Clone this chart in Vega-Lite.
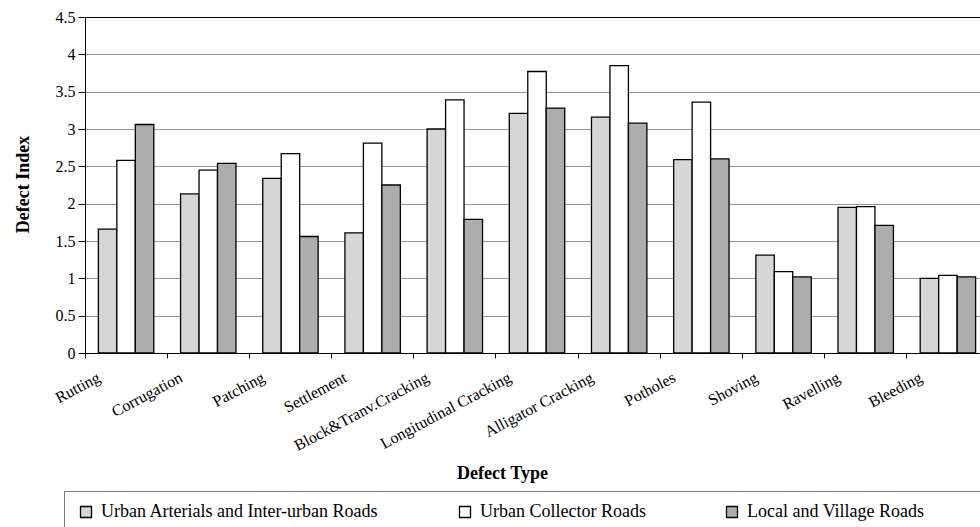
{
  "$schema": "https://vega.github.io/schema/vega-lite/v6.json",
  "autosize": "none",
  "width": 895,
  "height": 336,
  "padding": {"left": 85, "top": 17, "right": 0, "bottom": 174},
  "background": "white",
  "data": {
    "values": [
      {"t": "Rutting", "s": "Urban Arterials and Inter-urban Roads", "v": 1.66},
      {"t": "Rutting", "s": "Urban Collector Roads", "v": 2.58},
      {"t": "Rutting", "s": "Local and Village Roads", "v": 3.06},
      {"t": "Corrugation", "s": "Urban Arterials and Inter-urban Roads", "v": 2.13},
      {"t": "Corrugation", "s": "Urban Collector Roads", "v": 2.45},
      {"t": "Corrugation", "s": "Local and Village Roads", "v": 2.54},
      {"t": "Patching", "s": "Urban Arterials and Inter-urban Roads", "v": 2.34},
      {"t": "Patching", "s": "Urban Collector Roads", "v": 2.67},
      {"t": "Patching", "s": "Local and Village Roads", "v": 1.56},
      {"t": "Settlement", "s": "Urban Arterials and Inter-urban Roads", "v": 1.61},
      {"t": "Settlement", "s": "Urban Collector Roads", "v": 2.81},
      {"t": "Settlement", "s": "Local and Village Roads", "v": 2.25},
      {"t": "Block&Tranv.Cracking", "s": "Urban Arterials and Inter-urban Roads", "v": 3.00},
      {"t": "Block&Tranv.Cracking", "s": "Urban Collector Roads", "v": 3.39},
      {"t": "Block&Tranv.Cracking", "s": "Local and Village Roads", "v": 1.79},
      {"t": "Longitudinal Cracking", "s": "Urban Arterials and Inter-urban Roads", "v": 3.21},
      {"t": "Longitudinal Cracking", "s": "Urban Collector Roads", "v": 3.77},
      {"t": "Longitudinal Cracking", "s": "Local and Village Roads", "v": 3.28},
      {"t": "Alligator Cracking", "s": "Urban Arterials and Inter-urban Roads", "v": 3.16},
      {"t": "Alligator Cracking", "s": "Urban Collector Roads", "v": 3.85},
      {"t": "Alligator Cracking", "s": "Local and Village Roads", "v": 3.08},
      {"t": "Potholes", "s": "Urban Arterials and Inter-urban Roads", "v": 2.59},
      {"t": "Potholes", "s": "Urban Collector Roads", "v": 3.36},
      {"t": "Potholes", "s": "Local and Village Roads", "v": 2.60},
      {"t": "Shoving", "s": "Urban Arterials and Inter-urban Roads", "v": 1.31},
      {"t": "Shoving", "s": "Urban Collector Roads", "v": 1.09},
      {"t": "Shoving", "s": "Local and Village Roads", "v": 1.02},
      {"t": "Ravelling", "s": "Urban Arterials and Inter-urban Roads", "v": 1.95},
      {"t": "Ravelling", "s": "Urban Collector Roads", "v": 1.96},
      {"t": "Ravelling", "s": "Local and Village Roads", "v": 1.71},
      {"t": "Bleeding", "s": "Urban Arterials and Inter-urban Roads", "v": 1.00},
      {"t": "Bleeding", "s": "Urban Collector Roads", "v": 1.04},
      {"t": "Bleeding", "s": "Local and Village Roads", "v": 1.02}
    ]
  },
  "mark": {"type": "bar", "stroke": "black", "strokeWidth": 1.3},
  "encoding": {
    "x": {
      "field": "t",
      "type": "nominal",
      "sort": ["Rutting", "Corrugation", "Patching", "Settlement", "Block&Tranv.Cracking", "Longitudinal Cracking", "Alligator Cracking", "Potholes", "Shoving", "Ravelling", "Bleeding"],
      "scale": {"paddingInner": 0, "paddingOuter": 0, "range": [0, 904]},
      "axis": {
        "title": "Defect Type",
        "titleFont": "Liberation Serif",
        "titleFontSize": 18,
        "titleFontWeight": "bold",
        "titleColor": "black",
        "titleX": 417,
        "titleY": 125,
        "titleBaseline": "alphabetic",
        "bandPosition": 0,
        "domainColor": "black",
        "tickColor": "black",
        "tickSize": 5,
        "labelAngle": -28,
        "labelAlign": "right",
        "labelBaseline": "middle",
        "labelOffset": -27,
        "labelPadding": 18,
        "labelFont": "Liberation Serif",
        "labelFontSize": 16,
        "labelColor": "black",
        "labelOverlap": false,
        "labelBound": false,
        "grid": false
      }
    },
    "xOffset": {
      "field": "s",
      "type": "nominal",
      "sort": ["Urban Arterials and Inter-urban Roads", "Urban Collector Roads", "Local and Village Roads"],
      "scale": {"paddingInner": 0, "paddingOuter": 0.725}
    },
    "y": {
      "field": "v",
      "type": "quantitative",
      "scale": {"domain": [0, 4.5], "nice": false},
      "axis": {
        "title": "Defect Index",
        "titleFont": "Liberation Serif",
        "titleFontSize": 18,
        "titleFontWeight": "bold",
        "titleColor": "black",
        "titleX": -62,
        "titleY": 167,
        "titleBaseline": "middle",
        "values": [0, 0.5, 1, 1.5, 2, 2.5, 3, 3.5, 4, 4.5],
        "format": "~g",
        "domainColor": "black",
        "tickColor": "black",
        "tickSize": 7,
        "labelPadding": 3,
        "labelFont": "Liberation Serif",
        "labelFontSize": 16,
        "labelColor": "black",
        "grid": true,
        "gridColor": {"condition": {"test": "datum.value === 4.5", "value": "black"}, "value": "#959595"},
        "gridWidth": 1.2
      }
    },
    "fill": {
      "field": "s",
      "type": "nominal",
      "sort": ["Urban Arterials and Inter-urban Roads", "Urban Collector Roads", "Local and Village Roads"],
      "scale": {
        "domain": ["Urban Arterials and Inter-urban Roads", "Urban Collector Roads", "Local and Village Roads"],
        "range": ["#d6d6d6", "#ffffff", "#adadad"]
      },
      "legend": {
        "title": " ",
        "titleOrient": "right",
        "titlePadding": 50,
        "orient": "none",
        "legendX": -21,
        "legendY": 474,
        "direction": "horizontal",
        "columns": 3,
        "columnPadding": 76,
        "padding": 12,
        "symbolOffset": 1,
        "strokeColor": "#7a7a7a",
        "symbolType": "square",
        "symbolSize": 121,
        "symbolStrokeColor": "black",
        "symbolStrokeWidth": 1.3,
        "labelOffset": 6,
        "labelFont": "Liberation Serif",
        "labelFontSize": 18,
        "labelColor": "black",
        "labelLimit": 0
      }
    }
  },
  "config": {"view": {"stroke": null}}
}
